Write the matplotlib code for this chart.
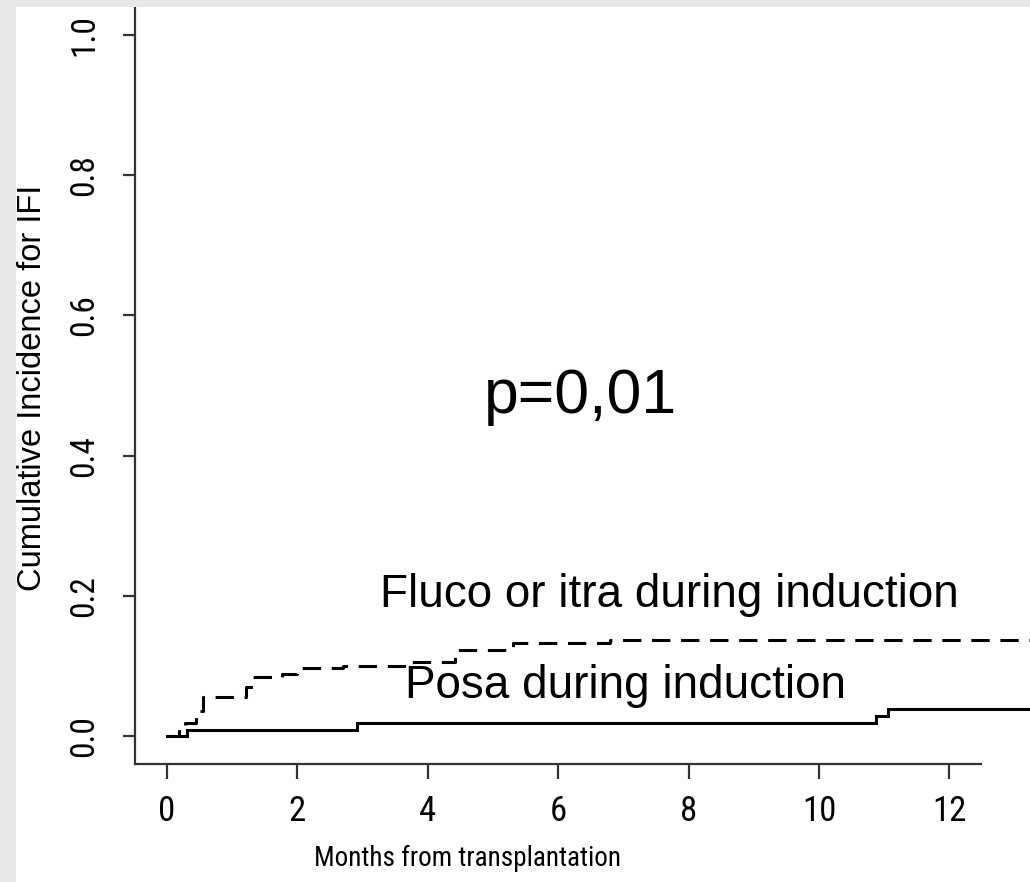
import matplotlib.pyplot as plt
from matplotlib import font_manager
from matplotlib.patches import Rectangle

# cumulative incidence step curves (months, incidence)
fluco_months = [0, 0.19, 0.28, 0.45, 0.55, 1.21, 1.32, 1.76, 2.0, 2.7, 3.7, 4.42, 5.3, 6.8, 13.3]
fluco_ci = [0, 0.014, 0.019, 0.035, 0.055, 0.07, 0.084, 0.089, 0.097, 0.1, 0.106, 0.123, 0.132, 0.137, 0.137]
posa_months = [0, 0.31, 2.91, 10.87, 11.06, 13.3]
posa_ci = [0, 0.009, 0.018, 0.029, 0.039, 0.039]

x_ticks = [0, 2, 4, 6, 8, 10, 12]
y_ticks = [0.0, 0.2, 0.4, 0.6, 0.8, 1.0]


def pick_narrow():
    """Axis text in the original is a condensed Helvetica; use one if installed."""
    for name in ("Liberation Sans Narrow", "Roboto Condensed", "Open Sans Condensed",
                 "DejaVu Sans Condensed", "Noto Sans Condensed"):
        try:
            font_manager.findfont(font_manager.FontProperties(family=name),
                                  fallback_to_default=False)
            return name, True
        except ValueError:
            continue
    return "Liberation Sans", False


narrow, have_narrow = pick_narrow()
plt.rcParams["font.family"] = ["Liberation Sans", "DejaVu Sans"]

fig = plt.figure(figsize=(10.30, 8.82), dpi=100)
ax = fig.add_axes([135 / 1030, 118 / 882, 895 / 1030, 764 / 882])

ax.step(posa_months, posa_ci, where="post", color="black", lw=2.2, solid_joinstyle="miter")
ax.step(fluco_months, fluco_ci, where="post", color="black", lw=2.2, linestyle=(0, (6, 3.5)))

ax.set_xlim(-0.491, 13.236)
ax.set_ylim(-0.040, 1.050)

for side in ("top", "right"):
    ax.spines[side].set_visible(False)
for side in ("left", "bottom"):
    ax.spines[side].set_color("#333333")
    ax.spines[side].set_linewidth(1.6)
ax.spines["bottom"].set_bounds(-0.491, 12.48)

tick_size = 25 if have_narrow else 23
ax.set_xticks(x_ticks)
ax.set_xticklabels([str(t) for t in x_ticks], family=narrow, fontsize=tick_size)
ax.set_yticks(y_ticks)
ax.set_yticklabels([f"{t:.1f}" for t in y_ticks], family=narrow, fontsize=tick_size - 1,
                   rotation=90, va="center")
ax.tick_params(axis="x", length=11, width=1.6, color="#333333", pad=11)
ax.tick_params(axis="y", length=9, width=1.6, color="#333333", pad=16)

ax.set_xlabel("Months from transplantation", family=narrow,
              fontsize=19.5 if have_narrow else 16.5)
ax.xaxis.set_label_coords(0.372, -0.123)
ax.xaxis.label.set_va("center")
ax.set_ylabel("Cumulative Incidence for IFI", fontsize=23.5)
ax.yaxis.set_label_coords(-0.114, 0.492)
ax.yaxis.label.set_va("center")

ax.text(4.86, 0.461, "p=0,01", fontsize=45, va="baseline", ha="left")
ax.text(3.26, 0.184, "Fluco or itra during induction", fontsize=33, va="baseline", ha="left")
ax.text(3.65, 0.054, "Posa during induction", fontsize=33, va="baseline", ha="left")

# light grey frame on top and left edge
grey = "#e7e7e7"
fig.add_artist(Rectangle((0, 1 - 7 / 882), 1, 7 / 882, transform=fig.transFigure,
                         facecolor=grey, edgecolor="none", zorder=10))
fig.add_artist(Rectangle((0, 0), 16 / 1030, 1, transform=fig.transFigure,
                         facecolor=grey, edgecolor="none", zorder=10))

fig.savefig("out.png", dpi=100)
plt.close(fig)
